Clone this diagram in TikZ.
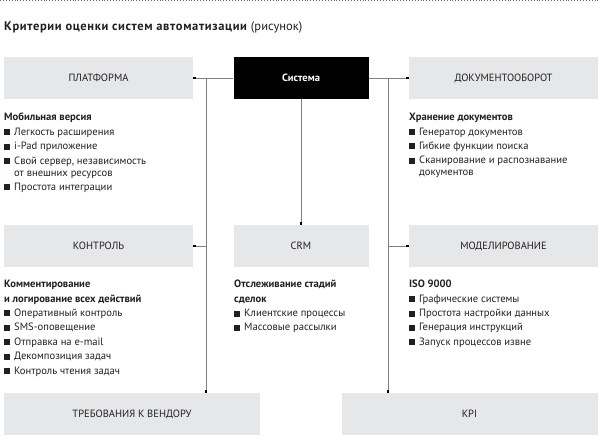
\documentclass[tikz,border=0pt]{standalone}
\usepackage{fontspec}
\setmainfont{PT Sans}
\usetikzlibrary{arrows.meta}
\definecolor{boxgray}{RGB}{230,231,232}
\definecolor{inkgray}{RGB}{35,31,32}
\newcommand{\bul}{\makebox[10pt][l]{\rule{6pt}{6pt}}}
\newcommand{\wrapind}{\hspace*{10pt}}

\begin{document}
\begin{tikzpicture}[x=1pt,y=-1pt,
  box/.style={fill=boxgray, inner sep=0, minimum height=42pt, text=inkgray,
    font=\fontsize{10.5}{12}\selectfont},
  list/.style={anchor=north west, inner sep=0, align=left, text=inkgray,
    font=\fontsize{10.6}{14.4}\selectfont},
  link/.style={draw=black!50, line width=1pt},
  dotend/.style={-{Square[length=2.6pt,width=2.6pt,color=black]}}]
  \useasboundingbox (0,0) rectangle (600,442);
  \draw[dotted, black!60, line width=0.9pt] (0,0.8) -- (600,0.8);
  \node[anchor=base west, inner sep=0, text=inkgray, font=\fontsize{12.5}{14}\selectfont]
    (title) at (4,30) {{\addfontfeature{LetterSpace=5}\textbf{Критерии оценки систем автоматизации}} (рисунок)};

  % top row
  \node[box, minimum width=189pt] (plat) at (98.5,78) {ПЛАТФОРМА};
  \node[box, minimum width=135pt, fill=black, text=white] (sys) at (301,78) {\textbf{Система}};
  \node[box, minimum width=189pt] (doc) at (503.5,78) {ДОКУМЕНТООБОРОТ};

  % middle row
  \node[box, minimum width=189pt] (kontr) at (98.5,246) {КОНТРОЛЬ};
  \node[box, minimum width=135pt] (crm) at (301,246) {CRM};
  \node[box, minimum width=189pt] (model) at (503.5,246) {МОДЕЛИРОВАНИЕ};

  % bottom row
  \node[box, minimum width=256pt] (vend) at (132,414) {ТРЕБОВАНИЯ К ВЕНДОРУ};
  \node[box, minimum width=256pt] (kpi) at (469.5,414) {KPI};

  % lists
  \node[list] (platlist) at (4,113) {\textbf{Мобильная версия}\\
    \bul Легкость расширения\\
    \bul i-Pad приложение\\
    \bul Свой сервер, независимость\\[-2.5pt]
    \wrapind от внешних ресурсов\\
    \bul Простота интеграции};
  \node[list] (doclist) at (409,113) {\textbf{Хранение документов}\\
    \bul Генератор документов\\
    \bul Гибкие функции поиска\\
    \bul Сканирование и распознавание\\[-2.5pt]
    \wrapind документов};
  \node[list] (kontrlist) at (4,280) {\textbf{Комментирование}\\
    \textbf{и логирование всех действий}\\
    \bul Оперативный контроль\\
    \bul SMS-оповещение\\
    \bul Отправка на e-mail\\
    \bul Декомпозиция задач\\
    \bul Контроль чтения задач};
  \node[list] (crmlist) at (234,280) {\textbf{Отслеживание стадий}\\
    \textbf{сделок}\\
    \bul Клиентские процессы\\
    \bul Массовые рассылки};
  \node[list] (modellist) at (409,280) {\textbf{ISO 9000}\\
    \bul Графические системы\\
    \bul Простота настройки данных\\
    \bul Генерация инструкций\\
    \bul Запуск процессов извне};

  % connectors
  \coordinate (jl) at (206,78);
  \coordinate (jr) at (388,78);
  \draw[link, dotend] (sys) -- (plat);
  \draw[link, dotend] (sys) -- (doc);
  \draw[link, dotend] (sys) -- (crm);
  \draw[link, dotend] (jl) -- (jl |- vend.north);
  \draw[link, dotend] (jr) -- (jr |- kpi.north);
  \draw[link, dotend] (jl |- kontr) -- (kontr.east);
  \draw[link, dotend] (jr |- model) -- (model.west);
\end{tikzpicture}
\end{document}
